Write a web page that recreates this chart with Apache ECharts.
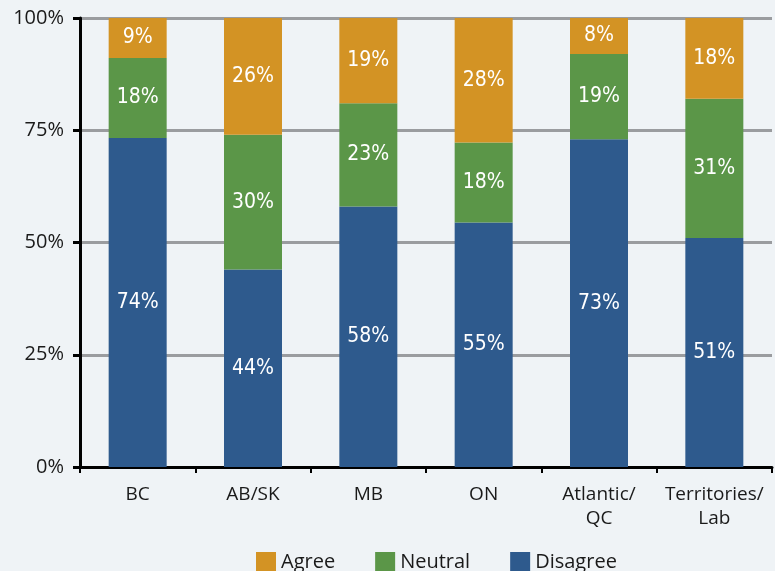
<!DOCTYPE html>
<html>
<head>
<meta charset="utf-8">
<script src="https://cdn.jsdelivr.net/npm/echarts@6/dist/echarts.min.js"></script>
<style>
  html, body { margin: 0; padding: 0; background: #eff3f6; }
  #chart { width: 775px; height: 571px; }
</style>
</head>
<body>
<div id="chart"></div>
<script>
// 地区
var regions = ["BC", "AB/SK", "MB", "ON", "Atlantic/\nQC", "Territories/\nLab"];
// 各系列百分比（图上标注值）
var disagree = [74, 44, 58, 55, 73, 51];
var neutral = [18, 30, 23, 18, 19, 31];
var agree = [9, 26, 19, 28, 8, 18];
var yTicks = ["0%", "25%", "50%", "75%", "100%"];

// 每列总和，用来把柱子归一到100%
var totals = regions.map(function (r, i) { return disagree[i] + neutral[i] + agree[i]; });
function share(arr) {
  return arr.map(function (v, i) { return v / totals[i] * 100; });
}

var myChart = echarts.init(document.getElementById("chart"));

var textFont = "'Open Sans', sans-serif";
var labelFont = "'Liberation Sans Narrow', 'DejaVu Sans Condensed', sans-serif";
function barLabel(arr) {
  return {
    show: true,
    position: "inside",
    color: "#ffffff",
    fontSize: 21,
    fontFamily: labelFont,
    formatter: function (p) { return arr[p.dataIndex] + "%"; }
  };
}

var option = {
  backgroundColor: "#eff3f6",
  animation: false,
  grid: { left: 80, right: 3, top: 18, bottom: 104, containLabel: false },
  legend: {
    bottom: -6,
    left: 251,
    itemWidth: 20,
    itemHeight: 20,
    itemGap: 40,
    icon: "rect",
    data: ["Agree", "Neutral", "Disagree"],
    textStyle: { fontSize: 20, color: "#1a1a1a", fontFamily: textFont }
  },
  xAxis: {
    type: "category",
    data: regions,
    axisLine: { lineStyle: { color: "#000", width: 3 } },
    axisTick: { show: true, length: 6, lineStyle: { color: "#000", width: 2 } },
    axisLabel: {
      interval: 0,
      fontSize: 19,
      color: "#1a1a1a",
      margin: 16,
      lineHeight: 24,
      fontFamily: textFont
    }
  },
  yAxis: {
    type: "value",
    min: 0,
    max: 100,
    interval: 25,
    axisLine: { show: true, lineStyle: { color: "#000", width: 3 } },
    axisTick: { show: true, length: 7, lineStyle: { color: "#000", width: 3 } },
    splitLine: { lineStyle: { color: "#9a9c9f", width: 3 } },
    axisLabel: {
      fontSize: 20,
      color: "#1a1a1a",
      margin: 16,
      fontFamily: textFont,
      formatter: function (v) { return yTicks[v / 25]; }
    }
  },
  series: [
    {
      name: "Disagree", type: "bar", stack: "total", barWidth: 58,
      itemStyle: { color: "#2e5a8d" },
      label: barLabel(disagree),
      data: share(disagree)
    },
    {
      name: "Neutral", type: "bar", stack: "total", barWidth: 58,
      itemStyle: { color: "#5b9648" },
      label: barLabel(neutral),
      data: share(neutral)
    },
    {
      name: "Agree", type: "bar", stack: "total", barWidth: 58,
      itemStyle: { color: "#d39324" },
      label: barLabel(agree),
      data: share(agree)
    }
  ]
};

myChart.setOption(option);
</script>
</body>
</html>
